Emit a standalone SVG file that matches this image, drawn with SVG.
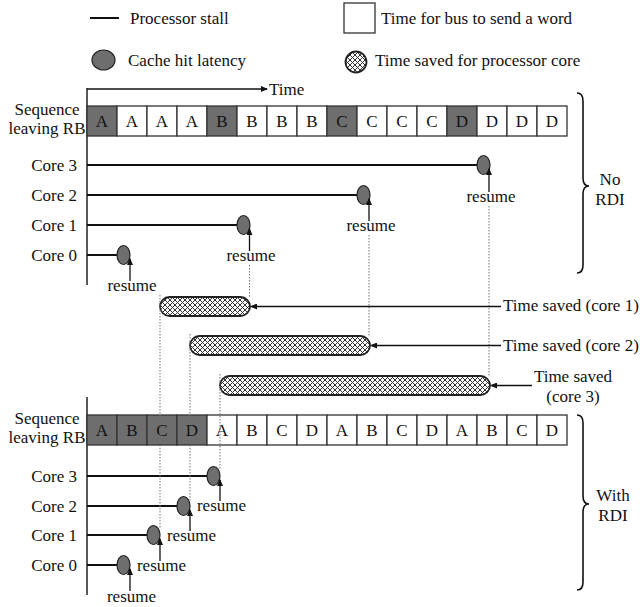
<svg xmlns="http://www.w3.org/2000/svg" width="640" height="607" viewBox="0 0 640 607">
<style>
.t{font-family:"Liberation Serif","Times New Roman",serif;font-size:17px;fill:#111}
.m{text-anchor:middle}
.e{text-anchor:end}
.cell{fill:#fff;stroke:#333;stroke-width:1.3}
.gc{fill:#6e6e6e;stroke:#333;stroke-width:1.3}
.ax{stroke:#222;stroke-width:1.5;fill:none}
.stall{stroke:#111;stroke-width:2}
.oval{fill:#6e6e6e;stroke:#222;stroke-width:1.2}
.dot{stroke:#777;stroke-width:1;stroke-dasharray:1.5 1.5;fill:none}
.arr{stroke:#111;stroke-width:1.3;fill:none;marker-end:url(#ah)}
.bar{fill:url(#hatch);stroke:#222;stroke-width:1.8}
.brace{fill:none;stroke:#111;stroke-width:1.6}
</style>
<defs>
<pattern id="hatch" patternUnits="userSpaceOnUse" width="5" height="5">
<rect width="5" height="5" fill="#fff"/>
<path d="M0,0 L5,5 M5,0 L0,5" stroke="#333" stroke-width="1"/>
</pattern>
<marker id="ah" markerWidth="7" markerHeight="6" refX="6" refY="3" orient="auto" markerUnits="userSpaceOnUse">
<path d="M0,0 L7,3 L0,6 Z" fill="#111"/>
</marker>
</defs>

<g id="legend">
<line class="stall" x1="90" y1="18" x2="119" y2="18"/>
<text class="t" x="130" y="24">Processor stall</text>
<ellipse class="oval" cx="103.5" cy="60" rx="11.5" ry="10"/>
<text class="t" x="128" y="66">Cache hit latency</text>
<rect class="cell" x="344" y="3" width="31" height="30"/>
<text class="t" x="381" y="24">Time for bus to send a word</text>
<circle class="bar" cx="356" cy="62" r="10.5" stroke-width="1.2"/>
<text class="t" x="375" y="66">Time saved for processor core</text>
</g>

<g id="time-axis">
<line class="arr" x1="87" y1="89" x2="267" y2="89"/>
<text class="t" x="269" y="95">Time</text>
</g>

<g id="no-rdi">
<line class="ax" x1="87" y1="88" x2="87" y2="285"/>
<text class="t m" x="47" y="115">Sequence</text>
<text class="t m" x="47" y="134">leaving RB</text>
<g id="seq-top">
<rect class="gc" x="87" y="106" width="30" height="30"/>
<rect class="cell" x="117" y="106" width="30" height="30"/>
<rect class="cell" x="147" y="106" width="30" height="30"/>
<rect class="cell" x="177" y="106" width="30" height="30"/>
<rect class="gc" x="207" y="106" width="30" height="30"/>
<rect class="cell" x="237" y="106" width="30" height="30"/>
<rect class="cell" x="267" y="106" width="30" height="30"/>
<rect class="cell" x="297" y="106" width="30" height="30"/>
<rect class="gc" x="327" y="106" width="30" height="30"/>
<rect class="cell" x="357" y="106" width="30" height="30"/>
<rect class="cell" x="387" y="106" width="30" height="30"/>
<rect class="cell" x="417" y="106" width="30" height="30"/>
<rect class="gc" x="447" y="106" width="30" height="30"/>
<rect class="cell" x="477" y="106" width="30" height="30"/>
<rect class="cell" x="507" y="106" width="30" height="30"/>
<rect class="cell" x="537" y="106" width="30" height="30"/>
<text class="t m" x="102" y="127">A</text>
<text class="t m" x="132" y="127">A</text>
<text class="t m" x="162" y="127">A</text>
<text class="t m" x="192" y="127">A</text>
<text class="t m" x="222" y="127">B</text>
<text class="t m" x="252" y="127">B</text>
<text class="t m" x="282" y="127">B</text>
<text class="t m" x="312" y="127">B</text>
<text class="t m" x="342" y="127">C</text>
<text class="t m" x="372" y="127">C</text>
<text class="t m" x="402" y="127">C</text>
<text class="t m" x="432" y="127">C</text>
<text class="t m" x="462" y="127">D</text>
<text class="t m" x="492" y="127">D</text>
<text class="t m" x="522" y="127">D</text>
<text class="t m" x="552" y="127">D</text>
</g>
<g id="top-core3">
<text class="t e" x="77" y="171">Core 3</text>
<line class="stall" x1="87" y1="165" x2="477" y2="165"/>
<ellipse class="oval" cx="483.5" cy="165" rx="6.5" ry="9.5"/>
<text class="t m" x="491" y="202">resume</text>
</g>
<g id="top-core2">
<text class="t e" x="77" y="201">Core 2</text>
<line class="stall" x1="87" y1="195" x2="357" y2="195"/>
<ellipse class="oval" cx="363.5" cy="195" rx="6.5" ry="9.5"/>
<text class="t m" x="371" y="231">resume</text>
</g>
<g id="top-core1">
<text class="t e" x="77" y="231">Core 1</text>
<line class="stall" x1="87" y1="225" x2="237" y2="225"/>
<ellipse class="oval" cx="243.5" cy="225" rx="6.5" ry="9.5"/>
<text class="t m" x="251" y="261">resume</text>
</g>
<g id="top-core0">
<text class="t e" x="77" y="261">Core 0</text>
<line class="stall" x1="87" y1="255" x2="117" y2="255"/>
<ellipse class="oval" cx="123.5" cy="255" rx="6.5" ry="9.5"/>
<text class="t m" x="132" y="291">resume</text>
</g>
<path class="brace" d="M577,93 Q583,93 583,101 L583,178 Q583,186 589,186 Q583,186 583,194 L583,265 Q583,273 577,273"/>
<text class="t m" x="610" y="185">No</text>
<text class="t m" x="610" y="205">RDI</text>
</g>

<g id="saved">
<g id="saved-core1">
<rect class="bar" x="160" y="297" width="90" height="19" rx="9.5"/>
<text class="t" x="503" y="311">Time saved (core 1)</text>
</g>
<g id="saved-core2">
<rect class="bar" x="190" y="336" width="180" height="19" rx="9.5"/>
<text class="t" x="503" y="351">Time saved (core 2)</text>
</g>
<g id="saved-core3">
<rect class="bar" x="220" y="376" width="270" height="19" rx="9.5"/>
<text class="t m" x="573" y="382">Time saved</text>
<text class="t m" x="573" y="402">(core 3)</text>
</g>
</g>

<g id="with-rdi">
<line class="ax" x1="87" y1="397" x2="87" y2="595"/>
<text class="t m" x="47" y="424">Sequence</text>
<text class="t m" x="47" y="443">leaving RB</text>
<g id="seq-bottom">
<rect class="gc" x="87" y="415" width="30" height="30"/>
<rect class="gc" x="117" y="415" width="30" height="30"/>
<rect class="gc" x="147" y="415" width="30" height="30"/>
<rect class="gc" x="177" y="415" width="30" height="30"/>
<rect class="cell" x="207" y="415" width="30" height="30"/>
<rect class="cell" x="237" y="415" width="30" height="30"/>
<rect class="cell" x="267" y="415" width="30" height="30"/>
<rect class="cell" x="297" y="415" width="30" height="30"/>
<rect class="cell" x="327" y="415" width="30" height="30"/>
<rect class="cell" x="357" y="415" width="30" height="30"/>
<rect class="cell" x="387" y="415" width="30" height="30"/>
<rect class="cell" x="417" y="415" width="30" height="30"/>
<rect class="cell" x="447" y="415" width="30" height="30"/>
<rect class="cell" x="477" y="415" width="30" height="30"/>
<rect class="cell" x="507" y="415" width="30" height="30"/>
<rect class="cell" x="537" y="415" width="30" height="30"/>
<text class="t m" x="102" y="436">A</text>
<text class="t m" x="132" y="436">B</text>
<text class="t m" x="162" y="436">C</text>
<text class="t m" x="192" y="436">D</text>
<text class="t m" x="222" y="436">A</text>
<text class="t m" x="252" y="436">B</text>
<text class="t m" x="282" y="436">C</text>
<text class="t m" x="312" y="436">D</text>
<text class="t m" x="342" y="436">A</text>
<text class="t m" x="372" y="436">B</text>
<text class="t m" x="402" y="436">C</text>
<text class="t m" x="432" y="436">D</text>
<text class="t m" x="462" y="436">A</text>
<text class="t m" x="492" y="436">B</text>
<text class="t m" x="522" y="436">C</text>
<text class="t m" x="552" y="436">D</text>
</g>
<g id="bot-core3">
<text class="t e" x="77" y="482">Core 3</text>
<line class="stall" x1="87" y1="476" x2="207" y2="476"/>
<ellipse class="oval" cx="213.5" cy="476" rx="6.5" ry="9.5"/>
<text class="t m" x="221.5" y="511">resume</text>
</g>
<g id="bot-core2">
<text class="t e" x="77" y="512">Core 2</text>
<line class="stall" x1="87" y1="506" x2="177" y2="506"/>
<ellipse class="oval" cx="183.5" cy="506" rx="6.5" ry="9.5"/>
<text class="t m" x="191.5" y="541">resume</text>
</g>
<g id="bot-core1">
<text class="t e" x="77" y="541">Core 1</text>
<line class="stall" x1="87" y1="535" x2="147" y2="535"/>
<ellipse class="oval" cx="153.5" cy="535" rx="6.5" ry="9.5"/>
<text class="t m" x="161.5" y="571">resume</text>
</g>
<g id="bot-core0">
<text class="t e" x="77" y="571">Core 0</text>
<line class="stall" x1="87" y1="565" x2="117" y2="565"/>
<ellipse class="oval" cx="123.5" cy="565" rx="6.5" ry="9.5"/>
<text class="t m" x="131.5" y="602">resume</text>
</g>
<path class="brace" d="M577,415 Q583,415 583,423 L583,496 Q583,504 589,504 Q583,504 583,512 L583,582 Q583,590 577,590"/>
<text class="t m" x="613" y="501">With</text>
<text class="t m" x="613" y="521">RDI</text>
</g>

<g id="connectors">
<line class="arr" x1="489" y1="192" x2="489" y2="169"/>
<line class="arr" x1="369" y1="221" x2="369" y2="199"/>
<line class="arr" x1="249.5" y1="251" x2="249.5" y2="229"/>
<line class="arr" x1="130" y1="281" x2="130" y2="259"/>
<line class="dot" x1="489" y1="206" x2="489" y2="376"/>
<line class="dot" x1="369" y1="235" x2="369" y2="336"/>
<line class="dot" x1="249.5" y1="265" x2="249.5" y2="297"/>
<line class="arr" x1="501" y1="306.5" x2="251" y2="306.5"/>
<line class="arr" x1="501" y1="345.5" x2="371" y2="345.5"/>
<line class="arr" x1="532" y1="385.5" x2="491" y2="385.5"/>
<line class="dot" x1="160" y1="295" x2="160" y2="529"/>
<line class="dot" x1="190" y1="334" x2="190" y2="500"/>
<line class="dot" x1="220" y1="374" x2="220" y2="470"/>
<line class="arr" x1="220" y1="501" x2="220" y2="480"/>
<line class="arr" x1="190" y1="531" x2="190" y2="510"/>
<line class="arr" x1="160" y1="561" x2="160" y2="539"/>
<line class="arr" x1="130" y1="591" x2="130" y2="569"/>
</g>
</svg>
